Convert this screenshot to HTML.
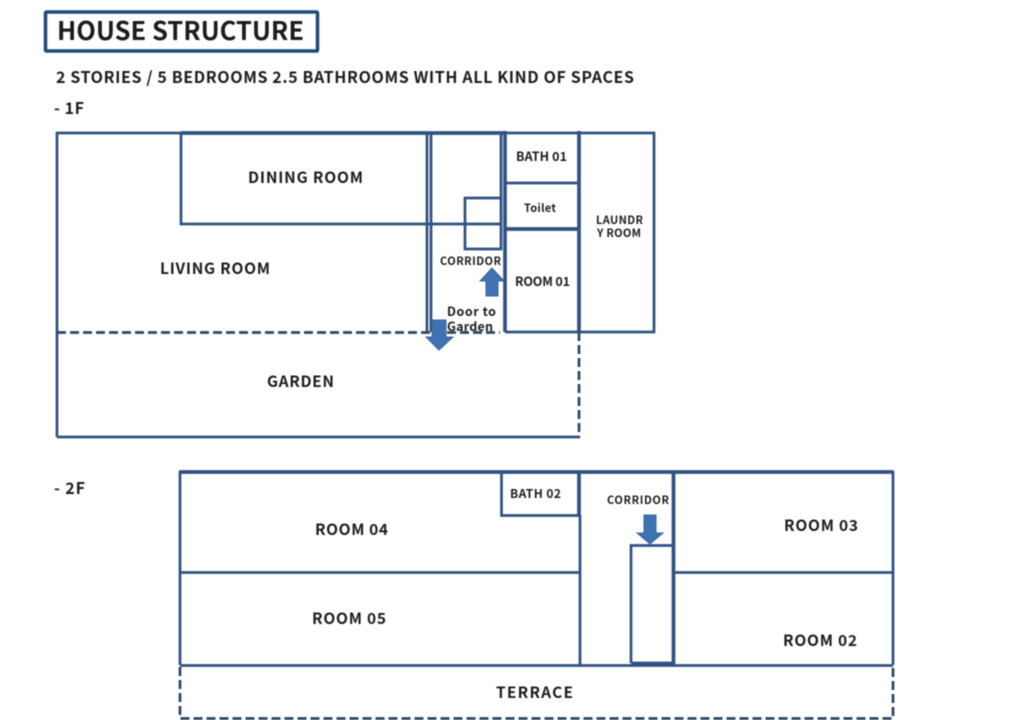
<!DOCTYPE html>
<html>
<head>
<meta charset="utf-8">
<style>
html,body{margin:0;padding:0;background:#fff;width:1024px;height:720px;overflow:hidden}
svg{display:block;filter:blur(.4px)}
text{font-family:"Noto Sans CJK KR","Liberation Sans",sans-serif;fill:#1c1c1c;font-weight:700}
.l{stroke:#2f5183;fill:none;stroke-width:2.700}
.t{stroke-width:3.700}
.d{stroke-dasharray:9 4;stroke:#2c4468;stroke-width:2.700}
.a{fill:#3f72b3;stroke:#3a659c;stroke-width:1}
</style>
</head>
<body>
<svg width="1024" height="720" viewBox="0 0 1024 720" xmlns="http://www.w3.org/2000/svg">
<rect width="1024" height="720" fill="#fff"/>

<rect x="45.5" y="12" width="272" height="39" fill="#fff" stroke="#1f4a78" stroke-width="3.5" rx="1"/>
<text x="57" y="40" font-size="25.500" textLength="247" lengthAdjust="spacing">HOUSE STRUCTURE</text>
<text x="56" y="83" font-size="16" textLength="578" lengthAdjust="spacing">2 STORIES / 5 BEDROOMS 2.5 BATHROOMS WITH ALL KIND OF SPACES</text>
<text x="54" y="114" font-size="16" textLength="30" lengthAdjust="spacing">- 1F</text>
<text x="54" y="494" font-size="16" textLength="31" lengthAdjust="spacing">- 2F</text>

<!-- 1F -->
<path class="l" d="M57 437V133H654V332H505"/>
<path class="l t" d="M181 133H505"/>
<path class="l" d="M181 133V224H501"/>
<path class="l" d="M427 133V332M431 133V332"/>
<path class="l" d="M501 133V249H465V198H501"/>
<path class="l t" d="M505 131V332"/>
<path class="l t" d="M579 131V332"/>
<path class="l" d="M505 183H579"/>
<path class="l t" d="M505 229H579"/>
<path class="l d" d="M57 332.500H500"/>
<path class="l d" d="M579 332V437"/>
<path class="l" d="M57 437H580"/>

<polygon class="a" points="486,296 498,296 498,281 504,281 492,268 480,281 486,281"/>
<polygon class="a" points="432,320 446,320 446,337 453,337 439,350 426,337 432,337"/>

<!-- 2F -->
<path class="l" d="M180 665V472H893V665"/>
<path class="l t" d="M180 472H893"/>
<path class="l" d="M180 572.500H580"/>
<path class="l" d="M501.500 472V515.500H579"/>
<path class="l t" d="M579 472V515"/>
<path class="l" d="M580 515V665"/>
<path class="l t" d="M673.500 472V665"/>
<path class="l" d="M673 572.500H893"/>
<path class="l" d="M631 663V545.500H672"/>
<path class="l t" d="M631 663.500H673"/>
<path class="l" d="M180 665.500H893"/>
<path class="l d" d="M180 667V718.500H893V667"/>

<polygon class="a" points="644,515 656,515 656,533 663,533 650,544 637,533 644,533"/>

<!-- Labels -->
<g font-size="15.500">
<text x="248" y="183" textLength="115" lengthAdjust="spacing">DINING ROOM</text>
<text x="160" y="274" textLength="110" lengthAdjust="spacing">LIVING ROOM</text>
<text x="267" y="387" textLength="67" lengthAdjust="spacing">GARDEN</text>
<text x="315" y="535" textLength="73" lengthAdjust="spacing">ROOM 04</text>
<text x="784" y="531" textLength="74" lengthAdjust="spacing">ROOM 03</text>
<text x="312" y="624" textLength="74" lengthAdjust="spacing">ROOM 05</text>
<text x="783" y="646" textLength="74" lengthAdjust="spacing">ROOM 02</text>
<text x="496" y="698" textLength="77" lengthAdjust="spacing">TERRACE</text>
</g>
<text x="516" y="161" font-size="12.500" textLength="51" lengthAdjust="spacing">BATH 01</text>
<text x="524" y="212" font-size="11" textLength="32" lengthAdjust="spacing">Toilet</text>
<text x="596" y="224" font-size="11" textLength="47" lengthAdjust="spacing">LAUNDR</text>
<text x="597" y="237" font-size="11" textLength="44" lengthAdjust="spacing">Y ROOM</text>
<text x="440" y="265" font-size="11" textLength="61" lengthAdjust="spacing">CORRIDOR</text>
<text x="515" y="286" font-size="12.500" textLength="55" lengthAdjust="spacing">ROOM 01</text>
<text x="447" y="316" font-size="12.500" textLength="49" lengthAdjust="spacing">Door to</text>
<text x="447" y="331" font-size="12.500" textLength="46" lengthAdjust="spacing">Garden</text>
<text x="510" y="498" font-size="12" textLength="51" lengthAdjust="spacing">BATH 02</text>
<text x="607" y="504" font-size="11" textLength="62" lengthAdjust="spacing">CORRIDOR</text>
</svg>
</body>
</html>
